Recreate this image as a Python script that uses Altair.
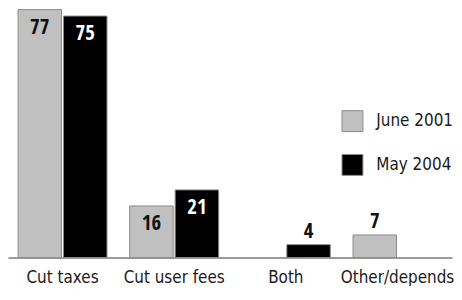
import altair as alt
import pandas as pd

categories = ["Cut taxes", "Cut user fees", "Both", "Other/depends"]
series = ["June 2001", "May 2004"]
june_2001 = [77, 16, None, 7]
may_2004 = [75, 21, 4, None]

rows = []
for c, a, b in zip(categories, june_2001, may_2004):
    if a is not None:
        rows.append({"cat": c, "series": series[0], "value": a})
    if b is not None:
        rows.append({"cat": c, "series": series[1], "value": b})
df = pd.DataFrame(rows)

FONT = "DejaVu Sans Condensed"
BOLD = "Open Sans Condensed"

x = alt.X("cat:N", sort=categories,
          scale=alt.Scale(paddingInner=0.2035, paddingOuter=0.09),
          axis=alt.Axis(title=None, labelAngle=0, ticks=False, labelFontSize=17,
                        labelFont=FONT, labelColor="#1a1a1a", labelPadding=12,
                        domainColor="#7a7a7a", domainWidth=1.3, grid=False))
xo = alt.XOffset("series:N", sort=series, scale=alt.Scale(paddingInner=0.0435, paddingOuter=0))
y = alt.Y("value:Q", scale=alt.Scale(domain=[0, 77], nice=False, zero=True), axis=None)

color = alt.Color("series:N", sort=series,
                  scale=alt.Scale(domain=series, range=["#c0c0c0", "#000000"]),
                  legend=alt.Legend(title=None, orient="none", legendX=335, legendY=101,
                                    symbolType="square", symbolSize=441,
                                    symbolStrokeColor="#8a8a8a", symbolStrokeWidth=1,
                                    symbolOpacity=1,
                                    labelFont=FONT, labelFontSize=17, labelColor="#1a1a1a",
                                    labelOffset=13, rowPadding=18, padding=0))

base = alt.Chart(df).encode(x=x, xOffset=xo, y=y)

bars = base.mark_bar(stroke="#8a8a8a", strokeWidth=1, opacity=1).encode(color=color)

inside = base.transform_filter("datum.value >= 10").mark_text(
    dy=24, baseline="alphabetic", font=BOLD, fontSize=21, fontWeight="bold"
).encode(text="value:Q",
         color=alt.Color("series:N", sort=series,
                         scale=alt.Scale(domain=series, range=["#111111", "#ffffff"]),
                         legend=None))

outside = base.transform_filter("datum.value < 10").mark_text(
    dy=-7, baseline="alphabetic", font=BOLD, fontSize=21, fontWeight="bold", color="#111"
).encode(text="value:Q")

chart = alt.layer(bars, inside, outside).resolve_scale(color="independent").properties(
    width=446, height=249, padding=0
).configure_view(stroke=None)

chart.save("out.html", embed_options={"renderer": "svg", "actions": False})
